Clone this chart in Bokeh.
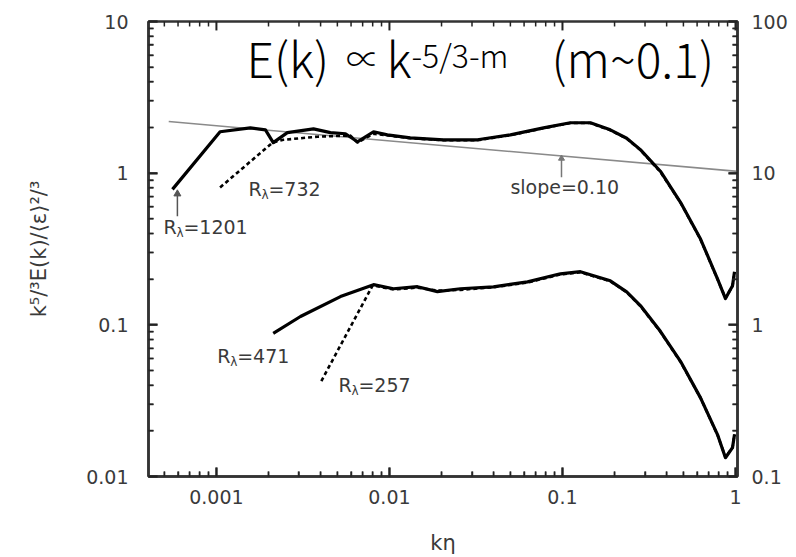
import math
from bokeh.plotting import figure
from bokeh.models import LogAxis, FixedTicker, CustomJSTickFormatter, Range1d, LogScale
from bokeh.core.properties import value
from bokeh.embed import file_html
from bokeh.resources import INLINE

# ---------------- data ----------------
k_1201 = [5.57e-4, 1.05e-3, 1.57e-3, 1.92e-3, 2.13e-3, 2.57e-3, 3.64e-3, 4.56e-3,
          5.57e-3, 6.53e-3, 8.09e-3, 9.73e-3, 0.0132, 0.0205, 0.0323, 0.0500,
          0.0777, 0.111, 0.145, 0.189, 0.235, 0.282, 0.368, 0.481, 0.628, 0.787,
          0.875, 0.961, 0.987]
E_1201 = [0.782, 1.875, 1.99, 1.93, 1.59, 1.85, 1.96, 1.85,
          1.82, 1.61, 1.875, 1.79, 1.71, 1.66, 1.66, 1.79,
          1.99, 2.15, 2.15, 1.93, 1.70, 1.43, 1.03, 0.643, 0.368, 0.201,
          0.149, 0.181, 0.224]

k_732 = [1.05e-3, 2.11e-3, 2.44e-3, 3.84e-3, 5.95e-3, 6.53e-3, 8.09e-3, 0.0132,
         0.0205, 0.0323, 0.0500, 0.0777, 0.111, 0.145, 0.189, 0.235, 0.282, 0.368,
         0.481, 0.628, 0.787, 0.875, 0.961, 0.987]
E_732 = [0.805, 1.59, 1.66, 1.74, 1.77, 1.59, 1.82, 1.70,
         1.65, 1.65, 1.78, 1.98, 2.14, 2.14, 1.92, 1.69, 1.42, 1.02,
         0.64, 0.366, 0.200, 0.150, 0.180, 0.220]

k_471 = [2.13e-3, 3.06e-3, 5.21e-3, 8.09e-3, 0.01055, 0.01452, 0.01893, 0.0257,
         0.0399, 0.0628, 0.0973, 0.127, 0.189, 0.235, 0.282, 0.368, 0.481, 0.628,
         0.787, 0.875, 0.961, 0.987]
E_471 = [0.0879, 0.1135, 0.1535, 0.184, 0.173, 0.1784, 0.1655, 0.173,
         0.178, 0.192, 0.217, 0.224, 0.195, 0.165, 0.134, 0.0906, 0.0575, 0.0330,
         0.0189, 0.0133, 0.0155, 0.0189]

k_257 = [4.04e-3, 8.0e-3, 0.0106, 0.0145, 0.0189, 0.0257, 0.0399, 0.0628, 0.0973,
         0.127, 0.189, 0.235, 0.282, 0.368, 0.481, 0.628, 0.787, 0.875, 0.961, 0.987]
E_257 = [0.0426, 0.182, 0.171, 0.176, 0.168, 0.170, 0.177, 0.190, 0.215,
         0.222, 0.194, 0.164, 0.133, 0.090, 0.057, 0.033, 0.0188, 0.0134, 0.0155, 0.019]

k_slope = [5.3e-4, 1.027]
E_slope = [2.19, 1.027]

x_ticks = [0.001, 0.01, 0.1, 1]
y_ticks_left = [0.01, 0.1, 1, 10]
y_ticks_right = [0.1, 1, 10, 100]

# ---------------- figure ----------------
FONT = value("DejaVu Sans")
TXT = "#3a3a3a"
AX = "#333333"
X0, X1 = 4.05e-4, 1.027
Y0, Y1 = 0.01, 10.0
W, H = 796, 557
BL, BR, BT, BB = 148, 59, 21, 78
FW, FH = W - BL - BR, H - BT - BB

p = figure(width=W, height=H, x_axis_type="log", y_axis_type="log",
           x_range=Range1d(X0, X1), y_range=Range1d(Y0, Y1),
           output_backend="svg", toolbar_location=None,
           min_border_left=BL, min_border_right=BR,
           min_border_top=BT, min_border_bottom=BB)
p.xgrid.visible = False
p.ygrid.visible = False
p.outline_line_color = AX
p.outline_line_width = 2.5

p.extra_y_ranges = {"right": Range1d(0.1, 100)}
p.extra_y_scales = {"right": LogScale()}


def minors(lo, hi, vmin, vmax):
    return [m * 10.0 ** e for e in range(lo, hi) for m in range(2, 10)
            if vmin < m * 10.0 ** e < vmax]


fmt = CustomJSTickFormatter(code="return tick.toString();")
blank = CustomJSTickFormatter(code="return '';")


def style(ax):
    ax.axis_line_width = 2.5
    ax.axis_line_color = AX
    ax.major_tick_in = 9
    ax.major_tick_out = 0
    ax.minor_tick_in = 5
    ax.minor_tick_out = 0
    ax.major_tick_line_width = 2
    ax.minor_tick_line_width = 1.5
    ax.major_tick_line_color = AX
    ax.minor_tick_line_color = AX
    ax.major_label_text_font = "DejaVu Sans"
    ax.major_label_text_font_size = "19px"
    ax.major_label_text_color = TXT
    ax.axis_label_text_font = "DejaVu Sans"
    ax.axis_label_text_font_size = "21px"
    ax.axis_label_text_font_style = "normal"
    ax.axis_label_text_color = TXT


x_minor = minors(-4, 1, X0, X1)
y_minor = minors(-2, 1, Y0, Y1)
yr_minor = minors(-1, 2, 0.1, 100)

xb = p.xaxis[0]
xb.ticker = FixedTicker(ticks=x_ticks, minor_ticks=x_minor)
xb.formatter = fmt
style(xb)
xb.major_label_standoff = 13
xb.axis_label = "kη"
xb.axis_label_standoff = 24

yl = p.yaxis[0]
yl.ticker = FixedTicker(ticks=y_ticks_left, minor_ticks=y_minor)
yl.formatter = fmt
style(yl)
yl.major_label_standoff = 20
yl.axis_label = "k⁵/³E(k)/⟨ε⟩²/³"
yl.axis_label_standoff = 32

yr = LogAxis(y_range_name="right",
             ticker=FixedTicker(ticks=y_ticks_right, minor_ticks=yr_minor),
             formatter=fmt)
style(yr)
yr.major_label_standoff = 14
p.add_layout(yr, "right")

# ---------------- curves ----------------
p.line(k_slope, E_slope, line_color="#8a8a8a", line_width=1.6)
p.line(k_1201, E_1201, line_color="black", line_width=3.2, line_join="round")
p.line(k_732, E_732, line_color="black", line_width=2.6, line_dash="4 3")
p.line(k_471, E_471, line_color="black", line_width=3.2, line_join="round")
p.line(k_257, E_257, line_color="black", line_width=2.6, line_dash="4 3")

# pointer marks (line + small triangle head)
p.segment(x0=[5.95e-4], y0=[0.52], x1=[5.95e-4], y1=[0.74], line_color="#555", line_width=1.5)
p.scatter(x=[5.95e-4], y=[0.73], marker="triangle", size=7, fill_color="#555", line_color="#555")
p.segment(x0=[0.0987], y0=[0.94], x1=[0.0987], y1=[1.27], line_color="#777", line_width=1.5)
p.scatter(x=[0.0987], y=[1.25], marker="triangle", size=6, fill_color="#777", line_color="#777")


def rlabel(x, y, num):
    p.text(x=[x], y=[y], text=["R"], text_font=FONT, text_font_size="19px",
           text_baseline="middle", text_color=TXT)
    p.text(x=[x], y=[y], text=["λ"], text_font=FONT, text_font_size="12px",
           text_baseline="middle", text_color=TXT, x_offset=13, y_offset=6)
    p.text(x=[x], y=[y], text=["=" + num], text_font=FONT, text_font_size="19px",
           text_baseline="middle", text_color=TXT, x_offset=20)


rlabel(4.94e-4, 0.44, "1201")
rlabel(1.53e-3, 0.782, "732")
rlabel(1.01e-3, 0.0621, "471")
rlabel(5.07e-3, 0.0401, "257")
p.text(x=[0.050], y=[0.806], text=["slope=0.10"], text_font=FONT,
       text_font_size="19px", text_baseline="middle", text_color=TXT)

# ---------------- title formula ----------------
TF = value("Noto Sans CJK JP Light, Noto Sans CJK JP")
p.text(x=[1.49e-3], y=[5.81], text=["E(k)"], text_font=TF, text_font_size="48px",
       text_baseline="middle", text_color="black")
p.text(x=[5.6e-3], y=[5.81], text=["∝"], text_font=TF, text_font_size="34px",
       text_baseline="middle", text_color="black")
p.text(x=[9.61e-3], y=[5.81], text=["k"], text_font=TF, text_font_size="48px",
       text_baseline="middle", text_color="black")
p.text(x=[0.0134], y=[6.08], text=["-5/3-m"], text_font=TF, text_font_size="32px",
       text_baseline="middle", text_color="black")
p.text(x=[0.0864], y=[5.81], text=["(m~0.1)"], text_font=TF, text_font_size="48px",
       text_baseline="middle", text_color="black")

# ---------------- inward frame ticks, drawn last on the overlay level ----------------
ppd_x = FW / math.log10(X1 / X0)
ppd_y = FH / math.log10(Y1 / Y0)
for xs, ln, w in ((x_ticks, 9, 2), (x_minor, 5, 1.5)):
    f = 10 ** (ln / ppd_y)
    n = len(xs)
    p.segment(x0=xs, y0=[Y0] * n, x1=xs, y1=[Y0 * f] * n, line_color="#222",
              line_width=w, level="overlay")
    p.segment(x0=xs, y0=[Y1] * n, x1=xs, y1=[Y1 / f] * n, line_color="#222",
              line_width=w, level="overlay")
for ys, ln, w in ((y_ticks_left, 9, 2), (y_minor, 5, 1.5)):
    f = 10 ** (ln / ppd_x)
    n = len(ys)
    p.segment(x0=[X0] * n, y0=ys, x1=[X0 * f] * n, y1=ys, line_color="#222",
              line_width=w, level="overlay")
    p.segment(x0=[X1] * n, y0=ys, x1=[X1 / f] * n, y1=ys, line_color="#222",
              line_width=w, level="overlay")

open("out.html", "w").write(file_html(p, INLINE))
